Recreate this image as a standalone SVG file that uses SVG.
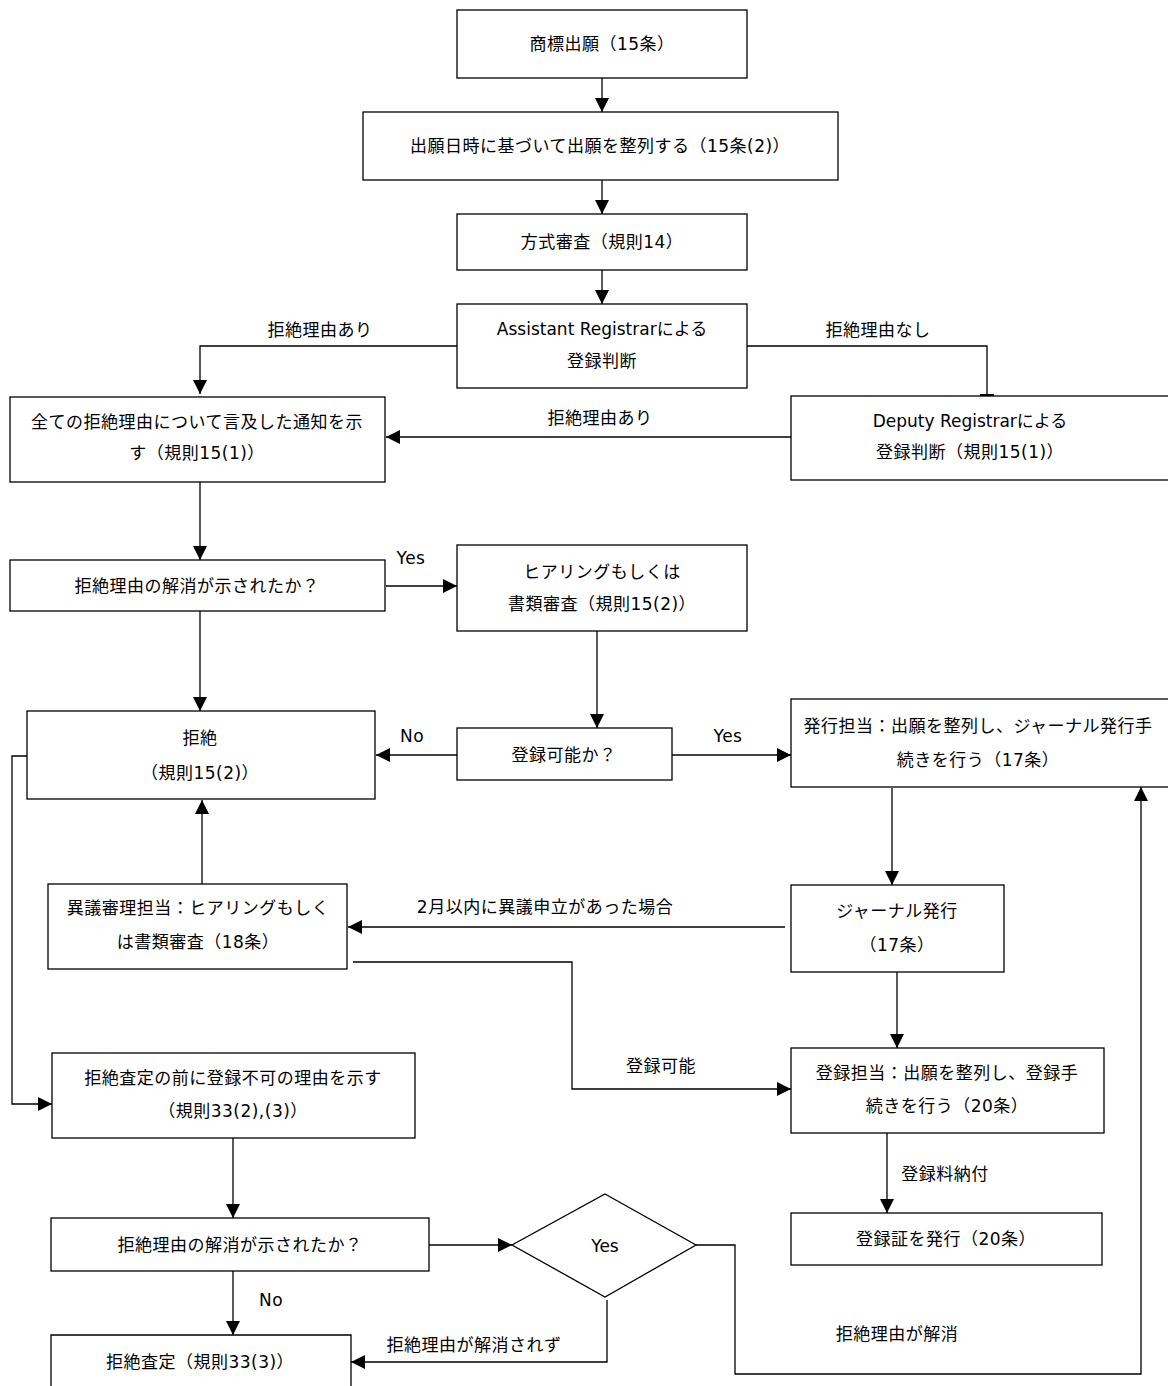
<svg xmlns="http://www.w3.org/2000/svg" width="1168" height="1386" viewBox="0 0 1168 1386">
<style>
  .box { fill: #ffffff; stroke: #000000; stroke-width: 1.3; }
  .t { font-family: "DejaVu Sans", "Noto Sans CJK JP", sans-serif; font-size: 17px; letter-spacing: 0.5px; fill: #000000; text-anchor: middle; dominant-baseline: central; }
  .lat { letter-spacing: 0px; }
  .lbl { font-family: "DejaVu Sans", "Noto Sans CJK JP", sans-serif; font-size: 17px; letter-spacing: 0.5px; fill: #000000; text-anchor: middle; dominant-baseline: central; }
  .c { fill: none; stroke: #000000; stroke-width: 1.3; }
  .a { marker-end: url(#arr); }
</style>
<defs>
  <marker id="arr" markerUnits="userSpaceOnUse" markerWidth="15" markerHeight="15" refX="14" refY="7" orient="auto">
    <path d="M0,0 L14,7 L0,14 Z" fill="#000000"/>
  </marker>
  <marker id="bar" markerUnits="userSpaceOnUse" markerWidth="16" markerHeight="16" refX="2" refY="8" orient="auto">
    <path d="M0,1 L3,1 L3,15 L0,15 Z" fill="#000000"/>
  </marker>
</defs>
<rect width="1168" height="1386" fill="#ffffff"/>

<g id="connectors">
  <path class="c a" d="M602,78 L602,112"/>
  <path class="c a" d="M602,180 L602,214"/>
  <path class="c a" d="M602,270 L602,304"/>
  <path class="c a" d="M457,346 L200,346 L200,394"/>
  <path class="c" d="M747,346 L987,346 L987,396" marker-end="url(#bar)"/>
  <path class="c a" d="M791,437 L386,437"/>
  <path class="c a" d="M200,482 L200,560"/>
  <path class="c a" d="M386,586 L457,586"/>
  <path class="c a" d="M200,611 L200,711"/>
  <path class="c a" d="M597,631 L597,728"/>
  <path class="c a" d="M457,755 L376,755"/>
  <path class="c a" d="M672,755 L791,755"/>
  <path class="c a" d="M892,788 L892,885"/>
  <path class="c a" d="M202,884 L202,800"/>
  <path class="c a" d="M785,927 L348,927"/>
  <path class="c a" d="M353,962 L572,962 L572,1089 L791,1089"/>
  <path class="c a" d="M897,972 L897,1048"/>
  <path class="c a" d="M27,756 L12,756 L12,1104 L52,1104"/>
  <path class="c a" d="M233,1138 L233,1218"/>
  <path class="c a" d="M429,1245 L512,1245"/>
  <path class="c a" d="M696,1245 L735,1245 L735,1374 L1141,1374 L1141,787"/>
  <path class="c a" d="M607,1300 L607,1362 L351,1362"/>
  <path class="c a" d="M233,1271 L233,1335"/>
  <path class="c a" d="M887,1133 L887,1213"/>
  <text class="lbl" x="320" y="330">拒絶理由あり</text>
  <text class="lbl" x="878" y="330">拒絶理由なし</text>
  <text class="lbl" x="600" y="418">拒絶理由あり</text>
  <text class="lbl lat" x="411" y="558">Yes</text>
  <text class="lbl lat" x="412" y="736">No</text>
  <text class="lbl lat" x="728" y="736">Yes</text>
  <text class="lbl" x="545" y="907">2月以内に異議申立があった場合</text>
  <text class="lbl" x="661" y="1066">登録可能</text>
  <text class="lbl" x="945" y="1174">登録料納付</text>
  <text class="lbl lat" x="271" y="1300">No</text>
  <text class="lbl" x="474" y="1345">拒絶理由が解消されず</text>
  <text class="lbl" x="897" y="1334">拒絶理由が解消</text>
</g>

<g id="n1">
  <rect class="box" x="457" y="10" width="290" height="68"/>
  <text class="t" x="602" y="44">商標出願（15条）</text>
</g>
<g id="n2">
  <rect class="box" x="363" y="112" width="475" height="68"/>
  <text class="t" x="600" y="146">出願日時に基づいて出願を整列する（15条(2)）</text>
</g>
<g id="n3">
  <rect class="box" x="457" y="214" width="290" height="56"/>
  <text class="t" x="602" y="242">方式審査（規則14）</text>
</g>
<g id="n4">
  <rect class="box" x="457" y="304" width="290" height="84"/>
  <text class="t lat" x="602" y="329">Assistant Registrarによる</text>
  <text class="t" x="602" y="361">登録判断</text>
</g>
<g id="n5">
  <rect class="box" x="10" y="397" width="375" height="85"/>
  <text class="t" x="197" y="422">全ての拒絶理由について言及した通知を示</text>
  <text class="t" x="197" y="453">す（規則15(1)）</text>
</g>
<g id="n6">
  <rect class="box" x="791" y="396" width="380" height="84"/>
  <text class="t lat" x="970" y="421">Deputy Registrarによる</text>
  <text class="t" x="970" y="452">登録判断（規則15(1)）</text>
</g>
<g id="n7">
  <rect class="box" x="10" y="560" width="375" height="51"/>
  <text class="t" x="197" y="586">拒絶理由の解消が示されたか？</text>
</g>
<g id="n8">
  <rect class="box" x="457" y="545" width="290" height="86"/>
  <text class="t" x="602" y="572">ヒアリングもしくは</text>
  <text class="t" x="602" y="604">書類審査（規則15(2)）</text>
</g>
<g id="n9">
  <rect class="box" x="27" y="711" width="348" height="88"/>
  <text class="t" x="200" y="738">拒絶</text>
  <text class="t" x="200" y="773">（規則15(2)）</text>
</g>
<g id="n10">
  <rect class="box" x="457" y="728" width="215" height="52"/>
  <text class="t" x="564" y="755">登録可能か？</text>
</g>
<g id="n11">
  <rect class="box" x="791" y="699" width="380" height="88"/>
  <text class="t" x="978" y="726">発行担当：出願を整列し、ジャーナル発行手</text>
  <text class="t" x="978" y="760">続きを行う（17条）</text>
</g>
<g id="n12">
  <rect class="box" x="48" y="884" width="299" height="85"/>
  <text class="t" x="198" y="908">異議審理担当：ヒアリングもしく</text>
  <text class="t" x="198" y="942">は書類審査（18条）</text>
</g>
<g id="n13">
  <rect class="box" x="791" y="885" width="213" height="87"/>
  <text class="t" x="897" y="911">ジャーナル発行</text>
  <text class="t" x="897" y="945">（17条）</text>
</g>
<g id="n14">
  <rect class="box" x="52" y="1053" width="363" height="85"/>
  <text class="t" x="233" y="1078">拒絶査定の前に登録不可の理由を示す</text>
  <text class="t" x="233" y="1111">（規則33(2),(3)）</text>
</g>
<g id="n15">
  <rect class="box" x="791" y="1048" width="313" height="85"/>
  <text class="t" x="947" y="1073">登録担当：出願を整列し、登録手</text>
  <text class="t" x="947" y="1106">続きを行う（20条）</text>
</g>
<g id="n16">
  <rect class="box" x="791" y="1213" width="311" height="52"/>
  <text class="t" x="946" y="1239">登録証を発行（20条）</text>
</g>
<g id="n17">
  <rect class="box" x="51" y="1218" width="378" height="53"/>
  <text class="t" x="240" y="1245">拒絶理由の解消が示されたか？</text>
</g>
<g id="n18">
  <polygon class="box" points="605,1194 696,1245 605,1297 512,1245"/>
  <text class="t lat" x="605" y="1246">Yes</text>
</g>
<g id="n19">
  <path class="box" d="M51,1392 L51,1335 L351,1335 L351,1392"/>
  <text class="t" x="200" y="1362">拒絶査定（規則33(3)）</text>
</g>
</svg>
